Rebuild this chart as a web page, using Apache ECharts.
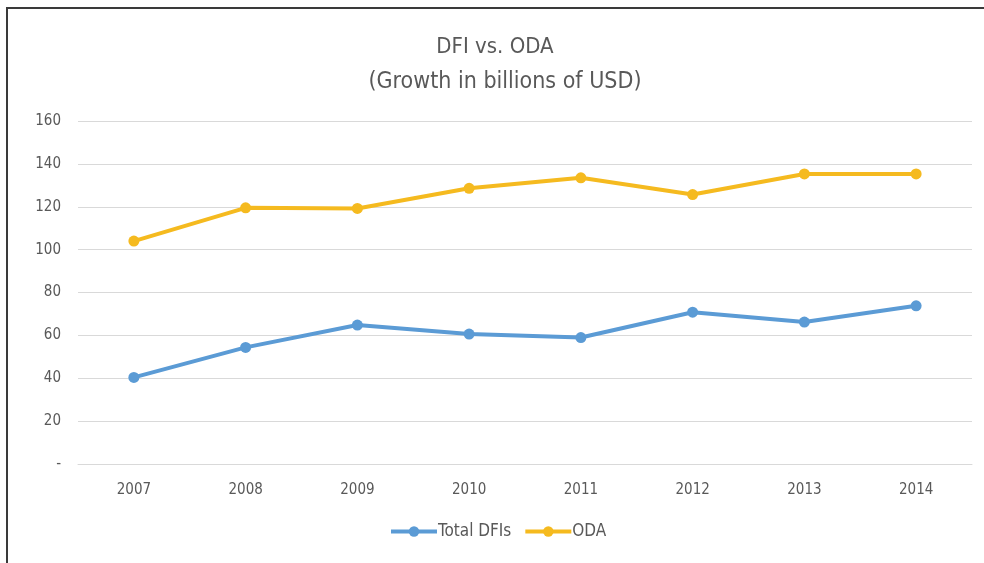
<!DOCTYPE html>
<html>
<head>
<meta charset="utf-8">
<script src="https://cdn.jsdelivr.net/npm/echarts@6/dist/echarts.min.js"></script>
<style>
  html, body { margin: 0; padding: 0; width: 984px; height: 563px; overflow: hidden; background: #fff; }
  #frame { position: absolute; left: 6px; top: 7px; width: 1000px; height: 600px; border-left: 2px solid #3a3a3a; border-top: 2px solid #3a3a3a; }
  #chart { position: absolute; left: 0; top: 0; width: 984px; height: 563px; }
</style>
</head>
<body>
<div id="frame"></div>
<div id="chart"></div>
<script>
const years = ['2007', '2008', '2009', '2010', '2011', '2012', '2013', '2014'];
const totalDFIs = [40.4, 54.4, 64.8, 60.6, 59.0, 70.8, 66.2, 73.8];
const oda = [104.0, 119.5, 119.2, 128.6, 133.5, 125.7, 135.3, 135.3];
const yTicks = { min: 0, max: 160, interval: 20 };

const FONT = '"Liberation Sans Narrow", "DejaVu Sans Condensed", "Noto Sans", sans-serif';
const chart = echarts.init(document.getElementById('chart'));
chart.setOption({
  backgroundColor: 'transparent',
  animation: false,
  title: [
    { text: 'DFI vs. ODA', left: 490, textAlign: 'center', top: 31,
      textStyle: { fontFamily: FONT, fontSize: 22, fontWeight: 'normal', color: '#595959' } },
    { text: '(Growth in billions of USD)', left: 500, textAlign: 'center', top: 66,
      textStyle: { fontFamily: FONT, fontSize: 23, fontWeight: 'normal', color: '#595959' } }
  ],
  grid: { left: 78, right: 12, top: 121, bottom: 99, containLabel: false },
  legend: {
    bottom: 18, left: 384,
    itemWidth: 46, itemHeight: 13, itemGap: 12,
    lineStyle: { width: 4 },
    textStyle: { fontFamily: FONT, fontSize: 17, color: '#595959', padding: [0, 0, 0, -4] },
    data: ['Total DFIs', 'ODA']
  },
  xAxis: {
    type: 'category', data: years, boundaryGap: true,
    axisLine: { show: true, lineStyle: { color: '#d9d9d9', width: 1 } },
    axisTick: { show: false },
    axisLabel: { fontFamily: FONT, fontSize: 15, color: '#595959', margin: 19 }
  },
  yAxis: {
    type: 'value', min: yTicks.min, max: yTicks.max, interval: yTicks.interval,
    axisLine: { show: false }, axisTick: { show: false },
    splitLine: { lineStyle: { color: '#d9d9d9', width: 1 } },
    axisLabel: { fontFamily: FONT, fontSize: 15, color: '#595959', margin: 17,
      formatter: v => v === 0 ? '-' : String(v) }
  },
  series: [
    { name: 'Total DFIs', type: 'line', data: totalDFIs, symbol: 'circle', symbolSize: 11,
      lineStyle: { width: 4, color: '#5B9BD5' }, itemStyle: { color: '#5B9BD5' } },
    { name: 'ODA', type: 'line', data: oda, symbol: 'circle', symbolSize: 11,
      lineStyle: { width: 4, color: '#F5BA1F' }, itemStyle: { color: '#F5BA1F' } }
  ]
});
</script>
</body>
</html>
